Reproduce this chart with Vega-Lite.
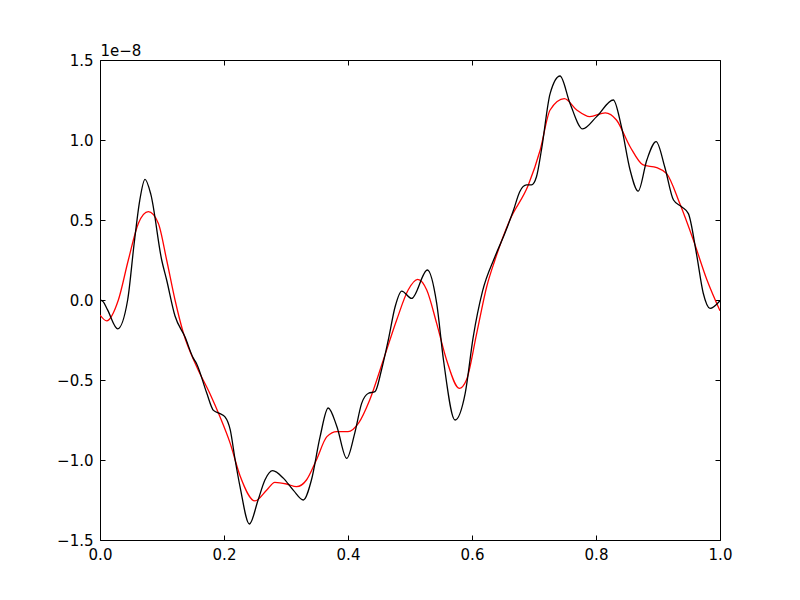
{
  "$schema": "https://vega.github.io/schema/vega-lite/v6.json",
  "width": 620,
  "height": 480,
  "autosize": "none",
  "padding": {"left": 100, "top": 60, "right": 80, "bottom": 60},
  "background": "white",
  "config": {
    "view": {"stroke": "black", "strokeWidth": 1},
    "axis": {
      "grid": false,
      "labelFont": "DejaVu Sans",
      "labelFontSize": 15,
      "labelColor": "black",
      "labelFlush": false,
      "titleFont": "DejaVu Sans",
      "titleFontSize": 15,
      "titleFontWeight": "normal",
      "titleColor": "black",
      "tickColor": "black",
      "domainColor": "black",
      "tickSize": -5,
      "labelPadding": 12
    }
  },
  "datasets": {
    "black": [
      {"x": 0, "y": 0}, {"x": 0.005, "y": -0.01}, {"x": 0.012, "y": -0.06}, {"x": 0.0285, "y": -0.18},
      {"x": 0.0446, "y": 0.0}, {"x": 0.055, "y": 0.35}, {"x": 0.064, "y": 0.62}, {"x": 0.0726, "y": 0.754},
      {"x": 0.082, "y": 0.66}, {"x": 0.0995, "y": 0.25}, {"x": 0.1075, "y": 0.125}, {"x": 0.121, "y": -0.1},
      {"x": 0.137, "y": -0.23}, {"x": 0.15, "y": -0.36}, {"x": 0.156, "y": -0.4}, {"x": 0.172, "y": -0.58},
      {"x": 0.183, "y": -0.69}, {"x": 0.1935, "y": -0.71}, {"x": 0.2016, "y": -0.73}, {"x": 0.21, "y": -0.81},
      {"x": 0.218, "y": -1.0}, {"x": 0.226, "y": -1.17}, {"x": 0.241, "y": -1.4}, {"x": 0.255, "y": -1.25},
      {"x": 0.266, "y": -1.125}, {"x": 0.2785, "y": -1.067}, {"x": 0.296, "y": -1.115}, {"x": 0.312, "y": -1.19},
      {"x": 0.328, "y": -1.25}, {"x": 0.341, "y": -1.125}, {"x": 0.355, "y": -0.854}, {"x": 0.368, "y": -0.675},
      {"x": 0.382, "y": -0.79}, {"x": 0.398, "y": -0.99}, {"x": 0.411, "y": -0.83}, {"x": 0.422, "y": -0.646},
      {"x": 0.433, "y": -0.583}, {"x": 0.4435, "y": -0.573}, {"x": 0.454, "y": -0.4375}, {"x": 0.465, "y": -0.25},
      {"x": 0.476, "y": -0.042}, {"x": 0.4866, "y": 0.056}, {"x": 0.5027, "y": 0.01}, {"x": 0.528, "y": 0.1875},
      {"x": 0.543, "y": -0.02}, {"x": 0.554, "y": -0.375}, {"x": 0.5726, "y": -0.75}, {"x": 0.589, "y": -0.583},
      {"x": 0.602, "y": -0.23}, {"x": 0.617, "y": 0.055}, {"x": 0.637, "y": 0.27}, {"x": 0.653, "y": 0.417},
      {"x": 0.667, "y": 0.5625}, {"x": 0.677, "y": 0.677}, {"x": 0.688, "y": 0.719}, {"x": 0.696, "y": 0.719},
      {"x": 0.704, "y": 0.77}, {"x": 0.712, "y": 0.9375}, {"x": 0.726, "y": 1.29}, {"x": 0.742, "y": 1.4},
      {"x": 0.758, "y": 1.23}, {"x": 0.7785, "y": 1.069}, {"x": 0.801, "y": 1.146}, {"x": 0.828, "y": 1.25},
      {"x": 0.841, "y": 1.083}, {"x": 0.855, "y": 0.8125}, {"x": 0.868, "y": 0.68}, {"x": 0.882, "y": 0.875},
      {"x": 0.897, "y": 0.99}, {"x": 0.911, "y": 0.83}, {"x": 0.925, "y": 0.625}, {"x": 0.938, "y": 0.583},
      {"x": 0.949, "y": 0.54}, {"x": 0.962, "y": 0.29}, {"x": 0.973, "y": 0.042}, {"x": 0.9839, "y": -0.052},
      {"x": 1.0, "y": -0.004}
    ],
    "red": [
      {"x": 0, "y": -0.094}, {"x": 0.0108, "y": -0.13}, {"x": 0.0296, "y": 0.0}, {"x": 0.0457, "y": 0.25},
      {"x": 0.062, "y": 0.48}, {"x": 0.078, "y": 0.552}, {"x": 0.094, "y": 0.48}, {"x": 0.1075, "y": 0.25},
      {"x": 0.121, "y": 0.0}, {"x": 0.134, "y": -0.2}, {"x": 0.156, "y": -0.417}, {"x": 0.177, "y": -0.583},
      {"x": 0.1935, "y": -0.73}, {"x": 0.21, "y": -0.896}, {"x": 0.226, "y": -1.1}, {"x": 0.25, "y": -1.256},
      {"x": 0.269, "y": -1.1875}, {"x": 0.282, "y": -1.14}, {"x": 0.301, "y": -1.15}, {"x": 0.317, "y": -1.167},
      {"x": 0.333, "y": -1.125}, {"x": 0.349, "y": -1.0}, {"x": 0.366, "y": -0.854}, {"x": 0.382, "y": -0.823},
      {"x": 0.4, "y": -0.823}, {"x": 0.417, "y": -0.77}, {"x": 0.435, "y": -0.625}, {"x": 0.457, "y": -0.375},
      {"x": 0.4785, "y": -0.125}, {"x": 0.497, "y": 0.0625}, {"x": 0.5124, "y": 0.129}, {"x": 0.527, "y": 0.0625},
      {"x": 0.543, "y": -0.146}, {"x": 0.559, "y": -0.375}, {"x": 0.5796, "y": -0.552}, {"x": 0.591, "y": -0.5},
      {"x": 0.6075, "y": -0.21}, {"x": 0.6237, "y": 0.083}, {"x": 0.637, "y": 0.25}, {"x": 0.661, "y": 0.5},
      {"x": 0.691, "y": 0.72}, {"x": 0.71, "y": 0.9375}, {"x": 0.726, "y": 1.1875}, {"x": 0.749, "y": 1.258},
      {"x": 0.769, "y": 1.1875}, {"x": 0.79, "y": 1.146}, {"x": 0.815, "y": 1.17}, {"x": 0.833, "y": 1.125},
      {"x": 0.855, "y": 0.958}, {"x": 0.876, "y": 0.844}, {"x": 0.898, "y": 0.827}, {"x": 0.914, "y": 0.79},
      {"x": 0.935, "y": 0.604}, {"x": 0.957, "y": 0.375}, {"x": 0.979, "y": 0.125}, {"x": 1.0, "y": -0.067}
    ]
  },
  "layer": [
    {
      "data": {"name": "red"},
      "mark": {"type": "line", "color": "#ff0000", "strokeWidth": 1.3, "interpolate": "monotone", "clip": true},
      "encoding": {
        "x": {"field": "x", "type": "quantitative", "scale": {"domain": [0, 1], "nice": false},
              "axis": {"orient": "top", "labels": false, "title": null, "values": [0, 0.2, 0.4, 0.6, 0.8, 1.0], "domain": false}},
        "y": {"field": "y", "type": "quantitative", "scale": {"domain": [-1.5, 1.5], "nice": false, "zero": false},
              "axis": {"orient": "right", "labels": false, "title": null, "values": [-1.5, -1, -0.5, 0, 0.5, 1, 1.5], "domain": false}}
      }
    },
    {
      "data": {"name": "black"},
      "mark": {"type": "line", "color": "#000000", "strokeWidth": 1.3, "interpolate": "monotone", "clip": true},
      "encoding": {
        "x": {"field": "x", "type": "quantitative",
              "axis": {"orient": "bottom", "format": ".1f", "title": null, "values": [0, 0.2, 0.4, 0.6, 0.8, 1.0], "domain": false}},
        "y": {"field": "y", "type": "quantitative",
              "axis": {"orient": "left", "format": ".1f", "values": [-1.5, -1, -0.5, 0, 0.5, 1, 1.5], "domain": false,
                       "title": "1e\u22128", "titleAngle": 0, "titleAlign": "left", "titleBaseline": "alphabetic", "titleX": 0, "titleY": -5}}
      }
    }
  ],
  "resolve": {"axis": {"x": "independent", "y": "independent"}}
}
